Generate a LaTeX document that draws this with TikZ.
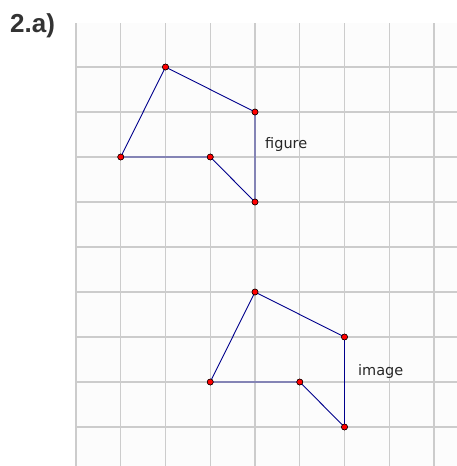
\documentclass[tikz,border=0pt]{standalone}
\usepackage{fontspec}
\setmainfont{Liberation Sans}
\newfontfamily\lblfont{DejaVu Sans}
\begin{document}
\begin{tikzpicture}[x=1pt,y=-1pt,
  gridline/.style={draw=black!20,line width=1.3pt},
  edge/.style={draw=blue!55!black,line width=0.9pt},
  pt/.style={circle,fill=red,draw=black,line width=0.5pt,inner sep=0pt,minimum size=6pt},
  lbl/.style={font=\lblfont\fontsize{14.5}{16}\selectfont,text=black!85,anchor=base west,inner sep=0pt}]
\useasboundingbox (0,0) rectangle (457,466);
\fill[white] (0,0) rectangle (457,466);
\fill[black!1] (76,23) rectangle (457,466);
\foreach \x in {76,120.75,165.5,210.25,255,299.75,344.5,389.25,434}
  \draw[gridline] (\x,23) -- (\x,466);
\foreach \y in {67,112,157,202,247,292,337,382,427}
  \draw[gridline] (76,\y) -- (457,\y);
\node[font=\bfseries\fontsize{26}{28}\selectfont,text=black!80,anchor=base west,inner sep=0pt] (title) at (10,32.5) {2.a)};
% figure
\node[pt] (A) at (165.5,67) {};
\node[pt] (B) at (255,112) {};
\node[pt] (C) at (255,202) {};
\node[pt] (D) at (210.25,157) {};
\node[pt] (E) at (120.75,157) {};
\draw[edge] (E.center) -- (A.center) -- (B.center) -- (C.center) -- (D.center) -- (E.center);
\foreach \p in {A,B,C,D,E} \node[pt] at (\p) {};
\node[lbl] (fl) at (265,148) {figure};
% image
\node[pt] (A2) at (255,292) {};
\node[pt] (B2) at (344.5,337) {};
\node[pt] (C2) at (344.5,427) {};
\node[pt] (D2) at (299.75,382) {};
\node[pt] (E2) at (210.25,382) {};
\draw[edge] (E2.center) -- (A2.center) -- (B2.center) -- (C2.center) -- (D2.center) -- (E2.center);
\foreach \p in {A2,B2,C2,D2,E2} \node[pt] at (\p) {};
\node[lbl] (il) at (358,375) {image};
\end{tikzpicture}
\end{document}
